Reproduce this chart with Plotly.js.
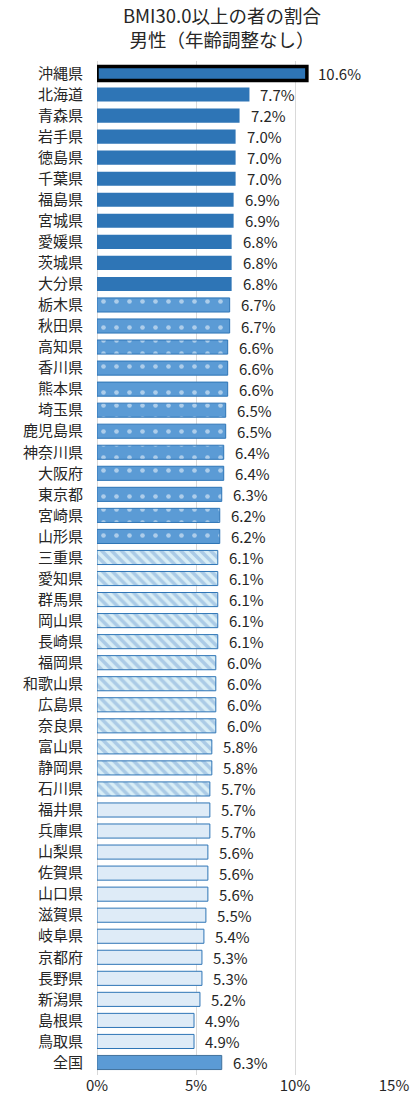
<!DOCTYPE html>
<html><head><meta charset="utf-8">
<script src="https://cdn.plot.ly/plotly-3.0.1.min.js"></script>
<style>html,body{margin:0;padding:0;background:#fff}#c{width:414px;height:1102px}</style>
</head><body><div id="c"></div>
<script>
const prefectures = ["沖縄県","北海道","青森県","岩手県","徳島県","千葉県","福島県","宮城県","愛媛県","茨城県","大分県",
"栃木県","秋田県","高知県","香川県","熊本県","埼玉県","鹿児島県","神奈川県","大阪府","東京都","宮崎県","山形県",
"三重県","愛知県","群馬県","岡山県","長崎県","福岡県","和歌山県","広島県","奈良県","富山県","静岡県","石川県",
"福井県","兵庫県","山梨県","佐賀県","山口県","滋賀県","岐阜県","京都府","長野県","新潟県","島根県","鳥取県","全国"];
const values = [10.6,7.7,7.2,7.0,7.0,7.0,6.9,6.9,6.8,6.8,6.8,
6.7,6.7,6.6,6.6,6.6,6.5,6.5,6.4,6.4,6.3,6.2,6.2,
6.1,6.1,6.1,6.1,6.1,6.0,6.0,6.0,6.0,5.8,5.8,5.7,
5.7,5.7,5.6,5.6,5.6,5.5,5.4,5.3,5.3,5.2,4.9,4.9,6.3];
// group: 0 highlighted, 1 solid, 2 dotted, 3 striped, 4 light, 5 national
const groups = [0,1,1,1,1,1,1,1,1,1,1, 2,2,2,2,2,2,2,2,2,2,2,2, 3,3,3,3,3,3,3,3,3,3,3,3, 4,4,4,4,4,4,4,4,4,4,4,4, 5];
const xTicks = [0,5,10,15];
const xTickLabels = ["0%","5%","10%","15%"];

const styles = [
  {color:"#2E75B6", line:{color:"#000000", width:3.5}},
  {color:"#2E75B6", line:{color:"#2E75B6", width:0}},
  {color:"#5B9BD5", line:{color:"#2E75B6", width:1}, pattern:{shape:".", fgcolor:"#FFFFFF", size:13, solidity:0.1, fillmode:"overlay"}},
  {color:"#D9EEF6", line:{color:"#2E75B6", width:1}, pattern:{shape:"\\", fgcolor:"#7EA8D6", size:7, solidity:0.5, fillmode:"overlay"}},
  {color:"#DEEBF7", line:{color:"#2E75B6", width:1}},
  {color:"#5B9BD5", line:{color:"#41719C", width:1}}
];

const font = "Noto Sans CJK JP, Noto Sans, sans-serif";
const traces = styles.map((st,g)=>{
  const ys=[], xs=[];
  prefectures.forEach((p,i)=>{ if(groups[i]===g){ ys.push(p); xs.push(values[i]); } });
  return {type:"bar", orientation:"h", y:ys, x:xs, marker:st, hoverinfo:"none"};
});
const annotations = prefectures.map((p,i)=>({
  x: values[i], y: p, xref:"x", yref:"y", text: values[i].toFixed(1)+"%",
  showarrow:false, xanchor:"left", xshift: 9, font:{size:15, color:"#262626", family:font}
}));
const layout = {
  width:414, height:1102,
  margin:{l:97, r:20, t:61, b:27},
  paper_bgcolor:"#fff", plot_bgcolor:"#fff",
  font:{family:font, size:15, color:"#262626"},
  title:{text:"BMI30.0以上の者の割合<br>男性（年齢調整なし）", x:0.536, xanchor:"center", y:0.979, yanchor:"middle",
    font:{size:18.5, color:"#262626", family:font}},
  barmode:"overlay",
  bargap:0.33,
  showlegend:false,
  xaxis:{range:[0,15], tickvals:xTicks, ticktext:xTickLabels, showgrid:true, gridcolor:"#D9D9D9", gridwidth:1,
    zeroline:true, zerolinecolor:"#D9D9D9", showline:false, fixedrange:true, tickfont:{size:15, color:"#262626"}},
  yaxis:{type:"category", categoryorder:"array", categoryarray:prefectures, autorange:"reversed",
    ticks:"outside", ticklen:10, tickcolor:"rgba(0,0,0,0)",
    tickfont:{size:15, color:"#262626"}, showline:false, fixedrange:true},
  annotations: annotations
};
Plotly.newPlot("c",traces,layout,{staticPlot:true});
</script></body></html>
